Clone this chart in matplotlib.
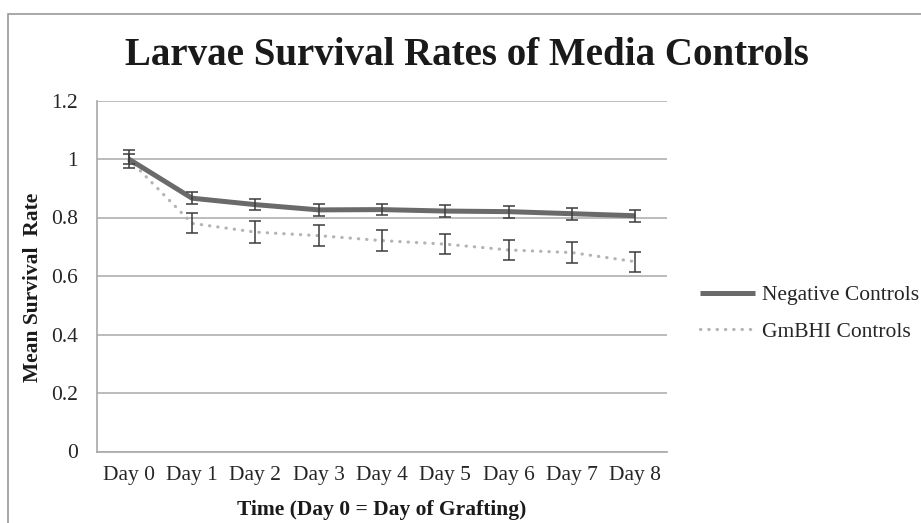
import matplotlib
matplotlib.use("Agg")
import matplotlib.pyplot as plt
from matplotlib.patches import Rectangle

# datos
days = ["Day 0", "Day 1", "Day 2", "Day 3", "Day 4", "Day 5", "Day 6", "Day 7", "Day 8"]
negative = [1.0, 0.866, 0.844, 0.826, 0.827, 0.822, 0.820, 0.813, 0.806]
negative_err = [0.018, 0.020, 0.020, 0.020, 0.020, 0.020, 0.020, 0.020, 0.021]
gmbhi = [1.0, 0.780, 0.750, 0.738, 0.721, 0.709, 0.689, 0.680, 0.649]
gmbhi_err = [0.032, 0.034, 0.037, 0.035, 0.035, 0.035, 0.035, 0.035, 0.034]

plt.rcParams['font.family'] = ['Liberation Serif', 'DejaVu Serif']

fig = plt.figure(figsize=(9.21, 5.23), dpi=100)
ax = fig.add_axes([97/921, 1 - 451.5/523, 570/921, 351/523])

x = list(range(len(days)))
ax.plot(x, gmbhi, color='#b4b4b4', lw=2.3, linestyle=(0, (0.1, 2.5)),
        dash_capstyle='round', label='GmBHI Controls', zorder=3)
ax.plot(x, negative, color='#6a6a6a', lw=3.6, solid_capstyle='butt',
        label='Negative Controls', zorder=4)
ax.errorbar(x, gmbhi, yerr=gmbhi_err, fmt='none', ecolor='#3c3c3c',
            elinewidth=1.1, capsize=4, capthick=1.1, zorder=5)
ax.errorbar(x, negative, yerr=negative_err, fmt='none', ecolor='#3c3c3c',
            elinewidth=1.1, capsize=4, capthick=1.1, zorder=5)

ax.set_xlim(-0.5, len(days) - 0.5)
ax.set_ylim(0, 1.2)
ax.set_yticks([0, 0.2, 0.4, 0.6, 0.8, 1.0, 1.2])
ax.set_yticklabels(['0', '0.2', '0.4', '0.6', '0.8', '1', '1.2'])
ax.set_xticks(x)
ax.set_xticklabels(days)
ax.tick_params(axis='y', length=0, pad=13.5, labelsize=15.5, labelcolor='#262626')
ax.tick_params(axis='x', length=0, pad=10.5, labelsize=15.5, labelcolor='#262626')
ax.grid(axis='y', color='#bcbcbc', lw=1.4)
ax.set_axisbelow(True)
for s in ['top', 'right']:
    ax.spines[s].set_visible(False)
ax.spines['left'].set_color('#a8a8a8')
ax.spines['bottom'].set_color('#a8a8a8')
ax.spines['left'].set_linewidth(1.2)
ax.spines['bottom'].set_linewidth(1.2)

fig.text(467/921, 1 - 65/523, 'Larvae Survival Rates of Media Controls',
         ha='center', va='baseline', fontsize=28, fontweight='bold', color='#1a1a1a')
fig.text(382/921, 1 - 515/523, 'Time (Day 0 = Day of Grafting)',
         ha='center', va='baseline', fontsize=15.5, fontweight='bold', color='#1a1a1a')
fig.text(33/921, 1 - 287/523, 'Mean Survival  Rate', rotation=90,
         ha='center', va='center', fontsize=15.5, fontweight='bold', color='#1a1a1a')

h, l = ax.get_legend_handles_labels()
ax.legend(h[::-1], l[::-1], loc='center left', bbox_to_anchor=(700/921, 1 - 313.5/523),
          bbox_transform=fig.transFigure, frameon=False, borderpad=0, borderaxespad=0,
          handlelength=2.56, handletextpad=0.33, labelspacing=0.78, fontsize=15.5,
          labelcolor='#262626')

# marco gris alrededor de la figura
fig.patches.append(Rectangle((8/921, -0.1), 2, (523 - 14)/523 + 0.1,
                             transform=fig.transFigure, fill=False,
                             edgecolor='#999999', lw=1.2))

fig.savefig('out.png', dpi=100)
